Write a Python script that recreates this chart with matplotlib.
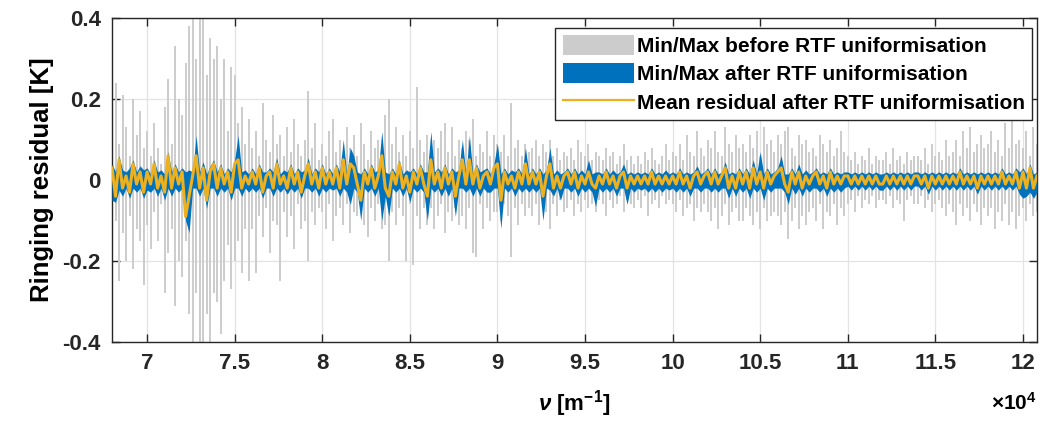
import numpy as np
import matplotlib
matplotlib.use('Agg')
import matplotlib.pyplot as plt
from matplotlib.patches import Patch
from matplotlib.lines import Line2D

# wavenumber grid [m^-1], 200 m^-1 steps
nu = np.arange(68000, 120801, 200)

# residuals in mK, one row per 2000 m^-1
gray_hi = [
    150, 240, 90, 210, 130, 60, 200, 110, 170, 80,
    120, 60, 140, 80, 40, 180, 250, 90, 330, 200,
    160, 290, 380, 420, 300, 450, 420, 260, 350, 300,
    330, 200, 300, 120, 280, 260, 140, 180, 90, 150,
    80, 120, 60, 190, 100, 70, 160, 90, 110, 60,
    130, 70, 150, 90, 60, 100, 220, 80, 140, 50,
    90, 60, 120, 150, 70, 100, 40, 130, 80, 110,
    60, 140, 90, 50, 120, 80, 100, 70, 160, 200,
    90, 130, 70, 110, 60, 120, 80, 230, 100, 70,
    110, 60, 100, 80, 120, 140, 70, 130, 60, 100,
    80, 120, 100, 150, 60, 90, 70, 120, 60, 110,
    90, 70, 110, 60, 190, 80, 100, 60, 90, 70,
    80, 100, 60, 90, 70, 100, 60, 80, 50, 70,
    60, 80, 50, 100, 70, 60, 90, 50, 70, 60,
    50, 80, 60, 70, 40, 60, 90, 50, 60, 40,
    60, 40, 70, 50, 80, 50, 40, 60, 90, 50,
    70, 60, 90, 50, 110, 70, 60, 120, 80, 60,
    100, 80, 120, 70, 60, 130, 90, 70, 110, 80,
    90, 70, 110, 80, 120, 60, 130, 90, 100, 70,
    110, 90, 120, 130, 80, 60, 110, 90, 100, 70,
    80, 60, 110, 90, 70, 100, 60, 80, 120, 70,
    60, 50, 70, 40, 60, 50, 80, 40, 60, 50,
    50, 70, 40, 80, 50, 60, 40, 70, 50, 60,
    60, 50, 80, 40, 90, 60, 70, 50, 100, 60,
    70, 100, 60, 120, 80, 130, 70, 90, 110, 80,
    90, 120, 70, 100, 60, 140, 80, 150, 90, 100,
    80, 120, 60, 130, 90,
]
gray_lo = [
    -180, -100, -250, -130, -200, -90, -220, -120, -150, -260,
    -110, -170, -80, -150, -60, -280, -180, -120, -310, -200,
    -240, -150, -330, -420, -280, -450, -400, -330, -420, -280,
    -300, -380, -250, -160, -270, -200, -150, -230, -120, -250,
    -120, -230, -90, -140, -70, -180, -100, -110, -250, -80,
    -140, -90, -170, -60, -120, -100, -200, -80, -110, -70,
    -80, -120, -60, -150, -90, -70, -110, -60, -130, -80,
    -90, -60, -110, -140, -70, -100, -60, -120, -110, -200,
    -80, -110, -70, -90, -200, -60, -210, -90, -120, -70,
    -110, -70, -120, -90, -60, -130, -80, -100, -70, -110,
    -90, -120, -70, -180, -190, -60, -120, -70, -100, -80,
    -80, -100, -60, -90, -190, -70, -110, -60, -90, -70,
    -90, -60, -110, -70, -80, -120, -60, -90, -50, -80,
    -70, -50, -90, -60, -80, -50, -70, -60, -80, -50,
    -60, -90, -50, -70, -60, -40, -80, -50, -60, -70,
    -50, -70, -40, -90, -60, -50, -70, -40, -60, -50,
    -60, -80, -50, -90, -70, -60, -100, -70, -80, -60,
    -80, -100, -70, -120, -90, -60, -110, -80, -70, -100,
    -100, -70, -90, -110, -80, -120, -70, -100, -90, -80,
    -90, -110, -80, -145, -100, -70, -120, -90, -110, -80,
    -70, -100, -60, -120, -80, -90, -60, -110, -70, -90,
    -60, -50, -80, -40, -70, -50, -60, -40, -70, -50,
    -50, -60, -40, -70, -50, -60, -100, -50, -40, -60,
    -60, -40, -70, -50, -80, -60, -50, -70, -90, -60,
    -80, -110, -60, -90, -70, -100, -60, -80, -110, -70,
    -90, -70, -120, -80, -100, -60, -110, -80, -120, -90,
    -70, -100, -60, -90, -80,
]
blue_hi = [
    40, 20, 60, 25, 20, 30, 50, 20, 35, 25,
    30, 15, 50, 20, 25, 15, 70, 20, 40, 20,
    30, 20, 25, 20, 110, 20, 45, 15, 35, 50,
    20, 40, 15, 30, 20, 50, 110, 20, 25, 15,
    30, 15, 40, 20, 20, 30, 20, 55, 15, 25,
    20, 40, 15, 30, 20, 25, 55, 15, 30, 20,
    40, 15, 30, 15, 40, 20, 100, 15, 80, 60,
    20, 15, 30, 15, 40, 20, 25, 120, 20, 15,
    30, 15, 50, 15, 25, 20, 30, 15, 40, 20,
    20, 120, 20, 30, 20, 40, 15, 30, 20, 25,
    100, 15, 110, 15, 40, 20, 25, 30, 15, 40,
    90, 15, 30, 15, 25, 20, 30, 15, 80, 15,
    30, 15, 30, 15, 25, 80, 15, 25, 15, 20,
    30, 15, 30, 15, 25, 15, 50, 15, 20, 20,
    15, 30, 15, 25, 15, 20, 40, 15, 20, 15,
    20, 15, 20, 15, 30, 15, 20, 15, 25, 15,
    20, 15, 30, 15, 20, 15, 20, 35, 15, 20,
    30, 15, 30, 15, 20, 45, 15, 20, 15, 30,
    15, 30, 15, 50, 15, 70, 15, 30, 15, 20,
    30, 60, 15, 15, 30, 15, 40, 15, 25, 15,
    20, 30, 15, 20, 15, 30, 15, 20, 15, 20,
    20, 15, 20, 15, 20, 15, 20, 15, 20, 15,
    15, 20, 15, 20, 15, 20, 15, 20, 15, 20,
    20, 15, 20, 15, 20, 15, 20, 15, 20, 15,
    20, 15, 30, 15, 20, 15, 20, 15, 20, 15,
    20, 15, 20, 15, 30, 15, 20, 15, 30, 20,
    30, 15, 40, 15, 20,
]
blue_lo = [
    -50, -55, -25, -40, -20, -45, -20, -30, -20, -45,
    -25, -30, -20, -40, -20, -50, -20, -40, -20, -30,
    -20, -100, -130, -20, -20, -40, -20, -70, -20, -20,
    -40, -20, -30, -20, -50, -20, -20, -40, -20, -30,
    -20, -30, -20, -45, -20, -20, -40, -20, -30, -20,
    -35, -20, -30, -20, -45, -20, -20, -30, -20, -40,
    -20, -30, -20, -25, -20, -40, -20, -30, -60, -20,
    -30, -100, -20, -30, -20, -40, -20, -100, -40, -90,
    -20, -30, -20, -40, -20, -55, -20, -30, -20, -30,
    -100, -20, -30, -20, -40, -20, -40, -20, -90, -20,
    -20, -30, -20, -40, -20, -40, -20, -30, -30, -20,
    -20, -120, -20, -30, -20, -40, -20, -30, -20, -30,
    -20, -30, -20, -100, -20, -25, -40, -20, -50, -20,
    -20, -30, -20, -40, -20, -30, -20, -30, -65, -20,
    -30, -20, -30, -20, -40, -20, -20, -60, -20, -30,
    -20, -25, -20, -30, -20, -30, -20, -30, -20, -25,
    -20, -30, -20, -30, -20, -40, -20, -20, -30, -20,
    -20, -30, -20, -30, -20, -20, -45, -20, -40, -20,
    -30, -20, -45, -20, -30, -20, -50, -20, -30, -20,
    -20, -20, -30, -60, -20, -35, -20, -40, -20, -30,
    -20, -20, -30, -20, -40, -20, -30, -20, -30, -20,
    -15, -25, -15, -25, -15, -25, -15, -25, -15, -25,
    -25, -15, -25, -15, -25, -15, -25, -15, -25, -15,
    -15, -25, -15, -35, -15, -25, -15, -25, -15, -25,
    -15, -25, -15, -25, -15, -25, -15, -35, -15, -25,
    -15, -25, -15, -25, -15, -25, -15, -25, -15, -35,
    -45, -40, -30, -45, -30,
]
mean_res = [
    30, -40, 50, -20, 10, -30, 40, -10, 20, -30,
    20, -10, 40, -20, 10, -30, 60, -20, 30, -10,
    20, -90, -40, 10, 60, -20, 30, -50, 20, 40,
    -20, 30, -10, 20, -30, 40, 50, -20, 10, -10,
    20, -10, 30, -30, 10, 20, -20, 40, -10, 10,
    -20, 30, -10, 20, -30, 10, 40, -10, 20, -20,
    30, -10, 20, -10, 30, -20, 50, -10, 40, 30,
    -10, -50, 20, -10, 30, -20, 10, 60, -20, -40,
    20, -10, 40, -20, 10, -30, 20, -10, 30, -10,
    -40, 50, -10, 20, -20, 30, -10, 20, -40, 10,
    50, -10, 50, -10, 30, -20, 10, 20, -10, 30,
    40, -50, 20, -10, 10, -20, 20, -10, 40, -10,
    20, -10, 20, -40, 10, 40, -20, 10, -20, 10,
    20, -10, 20, -20, 10, -10, 20, -10, -20, 10,
    -10, 20, -10, 10, -20, 10, 20, -20, 10, -10,
    10, -10, 10, -10, 20, -10, 10, -10, 10, -10,
    10, -10, 20, -10, 10, -20, 10, 20, -10, 10,
    20, -10, 20, -10, 10, 30, -20, 10, -20, 20,
    -10, 20, -20, 30, -10, 20, -20, 20, -10, 10,
    20, 30, -10, -30, 20, -10, 20, -20, 10, -10,
    10, 20, -10, 10, -20, 20, -10, 10, -10, 10,
    10, -10, 10, -10, 10, -10, 10, -10, 10, -10,
    -10, 10, -10, 10, -10, 10, -10, 10, -10, 10,
    10, -10, 10, -20, 10, -10, 10, -10, 10, -10,
    10, -10, 20, -10, 10, -10, 10, -20, 10, -10,
    10, -10, 10, -10, 20, -10, 10, -10, 20, -20,
    20, -20, 30, -20, 10,
]

legend_labels = ['Min/Max before RTF uniformisation',
                 'Min/Max after RTF uniformisation',
                 'Mean residual after RTF uniformisation']
x_ticks = [70000, 75000, 80000, 85000, 90000, 95000, 100000, 105000, 110000, 115000, 120000]
y_ticks = [-0.4, -0.2, 0, 0.2, 0.4]

gray_c = '#cccccc'
blue_c = '#0072BD'
yel_c = '#EDB120'

g_hi = np.array(gray_hi) / 1000
g_lo = np.array(gray_lo) / 1000
b_hi = np.array(blue_hi) / 1000
b_lo = np.array(blue_lo) / 1000
m = np.array(mean_res) / 1000

plt.rcParams['font.family'] = ['Liberation Sans Narrow', 'Liberation Sans', 'DejaVu Sans']
plt.rcParams['font.weight'] = 'bold'
plt.rcParams['mathtext.fontset'] = 'custom'
plt.rcParams['mathtext.rm'] = 'Liberation Sans'
plt.rcParams['mathtext.it'] = 'Liberation Sans:italic'
plt.rcParams['mathtext.bf'] = 'Liberation Sans:bold'

fig = plt.figure(figsize=(10.43, 4.24), dpi=100)
ax = fig.add_axes([0.1074, 0.1934, 0.8868, 0.7641])

ax.vlines(nu, g_lo, g_hi, color=gray_c, linewidth=1.4, zorder=2)
ax.fill_between(nu, b_lo, b_hi, color=blue_c, linewidth=0, zorder=3)
ax.plot(nu, m, color=yel_c, linewidth=2.2, zorder=4)

ax.set_xlim(68000, 120800)
ax.set_ylim(-0.4, 0.4)
ax.set_xticks(x_ticks)
ax.set_xticklabels(['%g' % (v / 1e4) for v in x_ticks])
ax.set_yticks(y_ticks)
ax.set_yticklabels(['%g' % v for v in y_ticks])
ax.tick_params(direction='in', length=6, width=1, top=True, right=True,
               labelsize=16, pad=8, colors='#262626')
ax.grid(True, color='#e3e3e3', linewidth=0.9, zorder=0)
ax.set_axisbelow(True)
for s in ax.spines.values():
    s.set_color('#262626')
    s.set_linewidth(1.0)

ax.set_ylabel('Ringing residual [K]', fontsize=18.5, fontweight='bold',
              family='Liberation Sans', labelpad=6)
ax.set_xlabel(r'$\mathit{\nu}$ [m$^{\mathbf{-1}}$]', fontsize=16, fontweight='bold',
              labelpad=10)
ax.text(1.0, -0.155, r'$\times\mathbf{10^{4}}$', transform=ax.transAxes,
        ha='right', va='top', fontsize=15)

handles = [Patch(facecolor=gray_c, edgecolor='none'),
           Patch(facecolor=blue_c, edgecolor='none'),
           Line2D([], [], color=yel_c, linewidth=1.6)]
leg = ax.legend(handles, legend_labels, loc='upper right', bbox_to_anchor=(0.9946, 0.97),
                prop={'family': 'Liberation Sans', 'weight': 'bold', 'size': 15},
                fancybox=False, framealpha=1, edgecolor='#262626',
                handlelength=3.4, handleheight=1.1, handletextpad=0.15,
                labelspacing=0.35, borderpad=0.35, borderaxespad=0)
leg.get_frame().set_linewidth(1.0)
leg.set_zorder(10)

fig.savefig('out.png', dpi=100)
